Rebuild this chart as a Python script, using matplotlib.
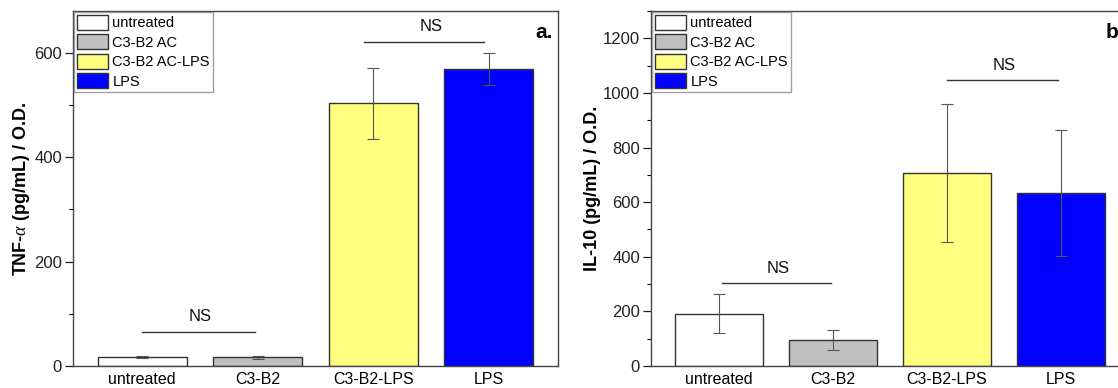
import matplotlib
matplotlib.use("Agg")
import matplotlib.pyplot as plt
from matplotlib.patches import Patch
from matplotlib.ticker import MultipleLocator

plt.rcParams['font.family'] = ['Liberation Sans', 'DejaVu Sans']
plt.rcParams['mathtext.fontset'] = 'custom'
plt.rcParams['mathtext.it'] = 'Liberation Serif:italic'

categories = ["untreated", "C3-B2", "C3-B2-LPS", "LPS"]
legend_labels = ["untreated", "C3-B2 AC", "C3-B2 AC-LPS", "LPS"]
colors = ["#FFFFFF", "#C0C0C0", "#FFFF80", "#0000FF"]

tnf_mean = [18, 17, 503, 569]
tnf_err = [2, 3, 68, 31]
il10_mean = [192, 95, 708, 633]
il10_err = [70, 38, 253, 230]

# NS annotations: (x_start, x_end, line_y, text_x, text_y)
tnf_ns = [(1.0, 1.98, 66, 1.5, 95), (2.92, 3.96, 620, 3.5, 650)]
il10_ns = [(1.02, 1.98, 304, 1.52, 357), (3.0, 3.98, 1047, 3.5, 1102)]

W, H = 1118, 388
fig = plt.figure(figsize=(W / 100, H / 100), dpi=100)
ax1 = fig.add_axes([73 / W, 22 / H, 485 / W, 355 / H])
ax2 = fig.add_axes([651 / W, 22 / H, 478 / W, 355 / H])

def draw(ax, means, errs, ns, ylim, major, minor, ylabel, tag):
    x = list(range(1, len(categories) + 1))
    ax.bar(x, means, width=0.77, color=colors, edgecolor="#333333", linewidth=1.0, zorder=2)
    ax.errorbar(x, means, yerr=errs, fmt="none", ecolor="#555555", elinewidth=0.8,
                capsize=4, capthick=0.8, zorder=3)
    ax.set_xlim(0.4, 4.6)
    ax.set_ylim(*ylim)
    ax.set_xticks(x)
    ax.set_xticklabels(categories, fontsize=11.5)
    ax.tick_params(axis="x", length=0, pad=4)
    ax.yaxis.set_major_locator(MultipleLocator(major))
    ax.yaxis.set_minor_locator(MultipleLocator(minor))
    ax.tick_params(axis="y", which="major", direction="out", length=6, width=0.9,
                   labelsize=12, colors="#222222", pad=2)
    ax.tick_params(axis="y", which="minor", direction="out", length=3, width=0.8)
    for s in ax.spines.values():
        s.set_color("#444444")
        s.set_linewidth(1.0)
    ax.set_ylabel(ylabel, fontsize=13, fontweight="bold")
    for (x0, x1, ly, tx, ty) in ns:
        ax.plot([x0, x1], [ly, ly], color="#333333", lw=1.0, zorder=3)
        ax.text(tx, ty, "NS", ha="center", va="center", fontsize=12, color="#111111")
    handles = [Patch(facecolor=c, edgecolor="#333333", linewidth=1.0) for c in colors]
    leg = ax.legend(handles, legend_labels, loc="upper left", fontsize=10.5,
                    bbox_to_anchor=(0.003, 0.997), frameon=True, fancybox=False,
                    edgecolor="#888888", borderpad=0.2, labelspacing=0.28,
                    handlelength=2.1, handleheight=1.2, handletextpad=0.3,
                    borderaxespad=0.0)
    leg.get_frame().set_linewidth(1.0)
    ax.text(0.99, 0.965, tag, transform=ax.transAxes, ha="right", va="top",
            fontsize=15, fontweight="bold")

draw(ax1, tnf_mean, tnf_err, tnf_ns, (0, 680), 200, 100,
     r"TNF-$\alpha$ (pg/mL) / O.D.", "a.")
draw(ax2, il10_mean, il10_err, il10_ns, (0, 1300), 200, 100,
     "IL-10 (pg/mL) / O.D.", "b.")
ax1.yaxis.set_label_coords(-0.085, 0.5)
ax2.yaxis.set_label_coords(-0.104, 0.5)

fig.savefig("out.png", dpi=100)
